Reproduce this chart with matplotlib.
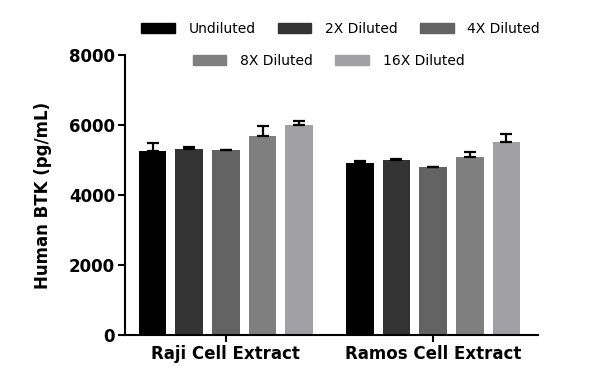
import matplotlib
matplotlib.use("Agg")
import matplotlib.pyplot as plt
import numpy as np
from matplotlib.patches import Patch

groups = ["Raji Cell Extract", "Ramos Cell Extract"]
series = ["Undiluted", "2X Diluted", "4X Diluted", "8X Diluted", "16X Diluted"]
colors = ["#000000", "#333333", "#636363", "#7f7f7f", "#a1a1a5"]
means = [
    [5260, 4905],
    [5305, 5000],
    [5276, 4790],
    [5686, 5076],
    [6000, 5505],
]
errs = [
    [220, 70],
    [65, 40],
    [20, 20],
    [290, 145],
    [115, 240],
]
yticks = [0, 2000, 4000, 6000, 8000]

plt.rcParams['font.family'] = ['DejaVu Sans']
fig = plt.figure(figsize=(6, 3.92), dpi=100)
ax = fig.add_axes([0.208, 0.145, 0.689, 0.715])

x = np.arange(len(groups))
step = 0.177
width = 0.133
for i, (s, c) in enumerate(zip(series, colors)):
    pos = x + (i - 2) * step
    ax.bar(pos, means[i], width=width, color=c, label=s, zorder=2)
    ax.errorbar(pos, means[i], yerr=[np.zeros(len(groups)), errs[i]], fmt='none',
                ecolor='black', elinewidth=1.6, capsize=4.5, capthick=1.6, zorder=3)

ax.set_xlim(-0.488, 1.507)
ax.set_ylim(0, 8000)
ax.set_yticks(yticks)
ax.set_yticklabels([str(t) for t in yticks], fontsize=12, fontweight='bold')
ax.set_xticks(x)
ax.set_xticklabels(groups, fontsize=12, fontweight='bold')
ax.set_ylabel("Human BTK (pg/mL)", fontsize=12, fontweight='bold', labelpad=12)
for sp in ['top', 'right']:
    ax.spines[sp].set_visible(False)
for sp in ['left', 'bottom']:
    ax.spines[sp].set_linewidth(1.5)
ax.tick_params(axis='both', width=1.5, length=5, pad=2)

handles = [Patch(facecolor=c, edgecolor=c, label=s) for s, c in zip(series, colors)]
kw = dict(frameon=False, fontsize=10, handlelength=2.4, handleheight=0.7,
          columnspacing=1.6, handletextpad=1.0, borderpad=0.0)
fig.legend(handles[:3], series[:3], loc='center', bbox_to_anchor=(0.568, 0.926),
           ncol=3, **kw)
fig.legend(handles[3:], series[3:], loc='center', bbox_to_anchor=(0.548, 0.844),
           ncol=2, **kw)

fig.savefig("out.png", dpi=100)
